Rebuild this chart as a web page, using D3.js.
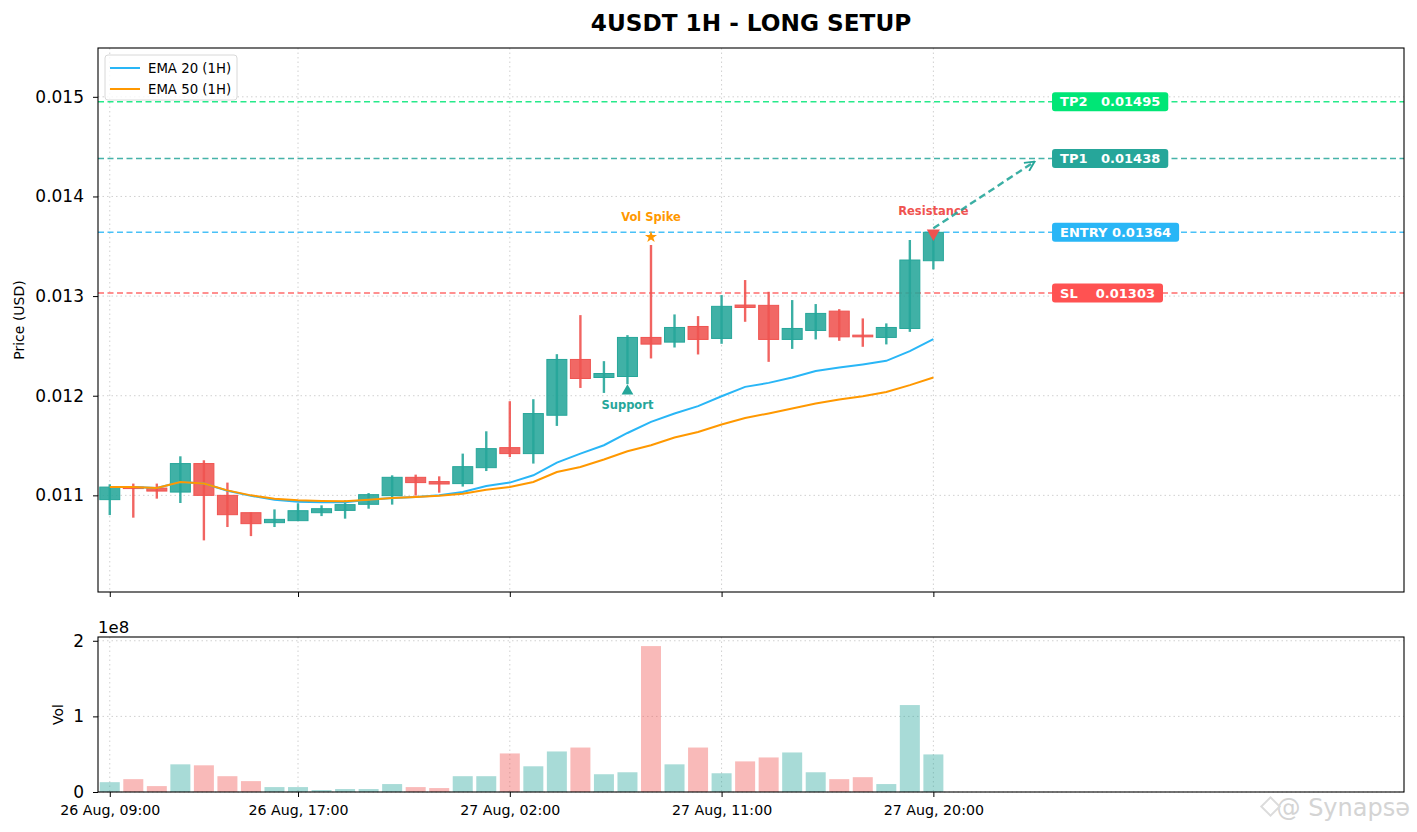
<!DOCTYPE html>
<html lang="en">
<head>
    <meta charset="UTF-8">
    <title>4USDT 1H - LONG SETUP</title>
    <style>
        body {
            margin: 0;
            background: #fff;
        }
        text {
            font-family: "DejaVu Sans", sans-serif;
        }
    </style>
    <script src="https://cdn.jsdelivr.net/npm/d3@7"></script>
</head>
<body>
    <script type="module">
        // Data (hourly candles, 26 Aug 09:00 -> 27 Aug 20:00)
        const opens = [0.010957, 0.011083, 0.011073, 0.011033, 0.011319, 0.011000, 0.010826, 0.010726, 0.010746, 0.010826, 0.010849, 0.010910, 0.010997, 0.011181, 0.011138, 0.011118, 0.011278, 0.011479, 0.011419, 0.011804, 0.012364, 0.012183, 0.012193, 0.012585, 0.012538, 0.012695, 0.012575, 0.012910, 0.012907, 0.012565, 0.012655, 0.012849, 0.012608, 0.012585, 0.012675, 0.013355];
        const highs = [0.011111, 0.011118, 0.011118, 0.011392, 0.011352, 0.011128, 0.010829, 0.010859, 0.010920, 0.010900, 0.010950, 0.011023, 0.011201, 0.011208, 0.011191, 0.011419, 0.011643, 0.011945, 0.011965, 0.012417, 0.012809, 0.012347, 0.012608, 0.013513, 0.012816, 0.012799, 0.013010, 0.013161, 0.013043, 0.012960, 0.012920, 0.012869, 0.012776, 0.012726, 0.013563, 0.013650];
        const lows = [0.010802, 0.010776, 0.010967, 0.010923, 0.010548, 0.010682, 0.010591, 0.010682, 0.010742, 0.010792, 0.010766, 0.010866, 0.010907, 0.010997, 0.011027, 0.011088, 0.011244, 0.011385, 0.011319, 0.011697, 0.012078, 0.012028, 0.012116, 0.012374, 0.012484, 0.012414, 0.012521, 0.012742, 0.012340, 0.012470, 0.012565, 0.012551, 0.012491, 0.012515, 0.012641, 0.013268];
        const closes = [0.011083, 0.011073, 0.011043, 0.011319, 0.011000, 0.010806, 0.010716, 0.010759, 0.010846, 0.010866, 0.010907, 0.011007, 0.011181, 0.011128, 0.011114, 0.011288, 0.011469, 0.011419, 0.011821, 0.012364, 0.012173, 0.012223, 0.012585, 0.012518, 0.012685, 0.012565, 0.012897, 0.012886, 0.012565, 0.012675, 0.012826, 0.012591, 0.012591, 0.012685, 0.013362, 0.013640];
        const volumes = [0.13e8, 0.17e8, 0.078e8, 0.366e8, 0.353e8, 0.209e8, 0.144e8, 0.065e8, 0.065e8, 0.026e8, 0.039e8, 0.039e8, 0.105e8, 0.065e8, 0.052e8, 0.209e8, 0.209e8, 0.51e8, 0.34e8, 0.536e8, 0.588e8, 0.235e8, 0.261e8, 1.93e8, 0.366e8, 0.588e8, 0.248e8, 0.405e8, 0.457e8, 0.523e8, 0.261e8, 0.17e8, 0.196e8, 0.105e8, 1.15e8, 0.497e8];
        const ema20 = [0.011083, 0.011083, 0.011073, 0.011134, 0.011118, 0.011047, 0.010995, 0.010957, 0.010937, 0.010930, 0.010930, 0.010957, 0.010973, 0.010983, 0.011000, 0.011033, 0.011094, 0.011128, 0.011201, 0.011329, 0.011419, 0.011503, 0.011626, 0.011737, 0.011821, 0.011895, 0.011995, 0.012089, 0.012129, 0.012183, 0.012249, 0.012283, 0.012314, 0.012350, 0.012447, 0.012568];
        const ema50 = [0.011083, 0.011083, 0.011073, 0.011134, 0.011118, 0.011050, 0.011000, 0.010967, 0.010950, 0.010943, 0.010940, 0.010957, 0.010973, 0.010983, 0.010997, 0.011017, 0.011057, 0.011083, 0.011134, 0.011234, 0.011284, 0.011360, 0.011442, 0.011503, 0.011580, 0.011636, 0.011711, 0.011777, 0.011822, 0.011871, 0.011922, 0.011962, 0.011995, 0.012038, 0.012106, 0.012183];

        const tickIndex = [0, 8, 17, 26, 35];
        const tickLabels = ["26 Aug, 09:00", "26 Aug, 17:00", "27 Aug, 02:00", "27 Aug, 11:00", "27 Aug, 20:00"];
        const priceTicks = [0.011, 0.012, 0.013, 0.014, 0.015];
        const volTicks = [0, 1e8, 2e8];

        const levelNames = ["TP2", "TP1", "ENTRY", "SL"];
        const levelPrices = [0.01495, 0.01438, 0.01364, 0.01303];
        const levelColors = ["#00e676", "#26a69a", "#29b6f6", "#ff5252"];

        // Canvas
        const width = 1417;
        const height = 832;
        const left = 98, right = 1404;
        const mainTop = 48, mainBottom = 592;
        const volTop = 637, volBottom = 792;

        const up = "#26a69a", down = "#ef5350";
        const n = closes.length;
        const last = n - 1;

        const svg = d3.select("body").append("svg").attr("width", width).attr("height", height);

        // Scales
        const x = d3.scaleLinear().domain([-0.5, 55]).range([left, right]);
        const y = d3.scaleLinear().domain([0.01003, 0.01549]).range([mainBottom, mainTop]);
        const yv = d3.scaleLinear().domain([0, 2.05e8]).range([volBottom, volTop]);
        const step = x(1) - x(0);

        // Clip paths
        const defs = svg.append("defs");
        defs.append("clipPath").attr("id", "clip-main")
            .append("rect").attr("x", left).attr("y", mainTop).attr("width", right - left).attr("height", mainBottom - mainTop);
        defs.append("clipPath").attr("id", "clip-vol")
            .append("rect").attr("x", left).attr("y", volTop).attr("width", right - left).attr("height", volBottom - volTop);

        // Grid
        const gridMain = svg.append("g").attr("stroke", "#d0d0d0").attr("stroke-dasharray", "1.5,3").attr("stroke-width", 1);
        gridMain.selectAll("line.gx").data(tickIndex).join("line")
            .attr("x1", d => x(d)).attr("x2", d => x(d)).attr("y1", mainTop).attr("y2", mainBottom);
        gridMain.selectAll("line.gy").data(priceTicks).join("line")
            .attr("x1", left).attr("x2", right).attr("y1", d => y(d)).attr("y2", d => y(d));

        const gridVol = svg.append("g").attr("stroke", "#d0d0d0").attr("stroke-dasharray", "1.5,3").attr("stroke-width", 1);
        gridVol.selectAll("line.gx").data(tickIndex).join("line")
            .attr("x1", d => x(d)).attr("x2", d => x(d)).attr("y1", volTop).attr("y2", volBottom);
        gridVol.selectAll("line.gy").data(volTicks).join("line")
            .attr("x1", left).attr("x2", right).attr("y1", d => yv(d)).attr("y2", d => yv(d));

        // Level lines
        const levels = svg.append("g").attr("clip-path", "url(#clip-main)");
        levels.selectAll("line").data(levelPrices).join("line")
            .attr("x1", left).attr("x2", right)
            .attr("y1", d => y(d)).attr("y2", d => y(d))
            .attr("stroke", (d, i) => levelColors[i])
            .attr("stroke-width", 1.5)
            .attr("stroke-opacity", 0.85)
            .attr("stroke-dasharray", "6,3.5");

        // Candles
        const candles = svg.append("g").attr("clip-path", "url(#clip-main)");
        const idx = d3.range(n);
        const bodyW = step * 0.85;

        candles.selectAll("rect").data(idx).join("rect")
            .attr("x", i => x(i) - bodyW / 2)
            .attr("width", bodyW)
            .attr("y", i => y(Math.max(opens[i], closes[i])))
            .attr("height", i => Math.max(1.5, Math.abs(y(opens[i]) - y(closes[i]))))
            .attr("fill", i => closes[i] >= opens[i] ? up : down)
            .attr("fill-opacity", 0.88)
            .attr("stroke", i => closes[i] >= opens[i] ? up : down)
            .attr("stroke-width", 1);

        candles.selectAll("line").data(idx).join("line")
            .attr("x1", i => x(i)).attr("x2", i => x(i))
            .attr("y1", i => y(highs[i])).attr("y2", i => y(lows[i]))
            .attr("stroke", i => closes[i] >= opens[i] ? up : down)
            .attr("stroke-opacity", 0.9)
            .attr("stroke-width", 2.4);

        // EMAs
        const line = d3.line().x((d, i) => x(i)).y(d => y(d));
        svg.append("path").datum(ema20).attr("d", line)
            .attr("fill", "none").attr("stroke", "#29b6f6").attr("stroke-width", 2);
        svg.append("path").datum(ema50).attr("d", line)
            .attr("fill", "none").attr("stroke", "#ff9800").attr("stroke-width", 2);

        // Annotations
        const spikeIdx = volumes.indexOf(d3.max(volumes));
        const supportIdx = 22;

        svg.append("path")
            .attr("d", d3.symbol().type(d3.symbolStar).size(45)())
            .attr("transform", `translate(${x(spikeIdx)}, ${y(highs[spikeIdx]) - 8})`)
            .attr("fill", "#ff9800");
        svg.append("text")
            .attr("x", x(spikeIdx)).attr("y", y(highs[spikeIdx]) - 24)
            .attr("text-anchor", "middle").attr("font-size", 11.5).attr("font-weight", "bold")
            .attr("fill", "#ff9800").text("Vol Spike");

        svg.append("path")
            .attr("d", d3.symbol().type(d3.symbolTriangle).size(60)())
            .attr("transform", `translate(${x(supportIdx)}, ${y(lows[supportIdx]) + 7})`)
            .attr("fill", up);
        svg.append("text")
            .attr("x", x(supportIdx)).attr("y", y(lows[supportIdx]) + 25)
            .attr("text-anchor", "middle").attr("font-size", 11.5).attr("font-weight", "bold")
            .attr("fill", up).text("Support");

        svg.append("path")
            .attr("d", d3.symbol().type(d3.symbolTriangle).size(75)())
            .attr("transform", `translate(${x(last)}, ${y(levelPrices[2]) + 1}) rotate(180)`)
            .attr("fill", down);
        svg.append("text")
            .attr("x", x(last)).attr("y", y(levelPrices[2]) - 17)
            .attr("text-anchor", "middle").attr("font-size", 11.5).attr("font-weight", "bold")
            .attr("fill", down).text("Resistance");

        // Arrow to TP1
        defs.append("marker").attr("id", "arrow")
            .attr("viewBox", "0 0 10 10").attr("refX", 9).attr("refY", 5)
            .attr("markerWidth", 5).attr("markerHeight", 5).attr("orient", "auto")
            .attr("markerUnits", "strokeWidth")
            .append("path").attr("d", "M1,1 L9,5 L1,9")
            .attr("fill", "none").attr("stroke", "#26a69a").attr("stroke-width", 1.6);
        svg.append("line")
            .attr("x1", x(last)).attr("y1", y(levelPrices[2]) - 4)
            .attr("x2", x(last + 4.3)).attr("y2", y(levelPrices[1]) + 3)
            .attr("stroke", "#26a69a").attr("stroke-opacity", 0.9)
            .attr("stroke-width", 2.4).attr("stroke-dasharray", "7,4")
            .attr("marker-end", "url(#arrow)");

        // Level labels
        const labelX = x(last + 5) + 1;
        levelNames.forEach((name, i) => {
            const g = svg.append("g");
            const t = g.append("text")
                .attr("x", labelX + 8).attr("y", y(levelPrices[i]))
                .attr("dy", "0.36em")
                .attr("font-size", 13).attr("font-weight", "bold")
                .attr("fill", "#fff")
                .style("white-space", "pre")
                .text(name.padEnd(5, " ") + " " + levelPrices[i].toFixed(5));
            const bb = t.node().getBBox();
            g.insert("rect", "text")
                .attr("x", labelX).attr("y", y(levelPrices[i]) - 9.5)
                .attr("width", bb.width + 16).attr("height", 19)
                .attr("rx", 3)
                .attr("fill", levelColors[i]);
        });

        // Volume bars
        const volW = step * 0.85;
        svg.append("g").attr("clip-path", "url(#clip-vol)")
            .selectAll("rect").data(idx).join("rect")
            .attr("x", i => x(i) - volW / 2)
            .attr("width", volW)
            .attr("y", i => yv(volumes[i]))
            .attr("height", i => yv(0) - yv(volumes[i]))
            .attr("fill", i => closes[i] >= opens[i] ? up : down)
            .attr("fill-opacity", 0.4);

        // Axes
        const yAxis = d3.axisLeft(y).tickValues(priceTicks).tickFormat(d3.format(".3f")).tickSizeOuter(0).tickSize(5).tickPadding(9);
        const xAxisMain = d3.axisBottom(x).tickValues(tickIndex).tickFormat("").tickSizeOuter(0).tickSize(5);
        const yvAxis = d3.axisLeft(yv).tickValues(volTicks).tickFormat(d => d / 1e8).tickSizeOuter(0).tickSize(5).tickPadding(9);
        const xAxisVol = d3.axisBottom(x).tickValues(tickIndex).tickFormat((d, i) => tickLabels[i]).tickSizeOuter(0).tickSize(5).tickPadding(8);

        const styleAxis = (g, size) => {
            g.select(".domain").remove();
            g.selectAll("text").attr("font-size", size).attr("fill", "#000").style("font-family", "DejaVu Sans");
            g.selectAll("line").attr("stroke", "#000").attr("stroke-width", 1);
        };

        svg.append("g").attr("transform", `translate(${left},0)`).call(yAxis).call(g => styleAxis(g, 17));
        svg.append("g").attr("transform", `translate(0,${mainBottom})`).call(xAxisMain).call(g => styleAxis(g, 14));
        svg.append("g").attr("transform", `translate(${left},0)`).call(yvAxis).call(g => styleAxis(g, 17));
        svg.append("g").attr("transform", `translate(0,${volBottom})`).call(xAxisVol).call(g => styleAxis(g, 14.2));

        // Frames
        svg.append("rect").attr("x", left).attr("y", mainTop).attr("width", right - left).attr("height", mainBottom - mainTop)
            .attr("fill", "none").attr("stroke", "#000").attr("stroke-width", 1.1);
        svg.append("rect").attr("x", left).attr("y", volTop).attr("width", right - left).attr("height", volBottom - volTop)
            .attr("fill", "none").attr("stroke", "#000").attr("stroke-width", 1.1);

        // Offset text
        svg.append("text").attr("x", left).attr("y", 633).attr("font-size", 16.5).text("1e8");

        // Axis labels
        svg.append("text").attr("transform", `translate(24, ${(mainTop + mainBottom) / 2}) rotate(-90)`)
            .attr("text-anchor", "middle").attr("font-size", 14).text("Price (USD)");
        svg.append("text").attr("transform", `translate(63, ${(volTop + volBottom) / 2}) rotate(-90)`)
            .attr("text-anchor", "middle").attr("font-size", 14).text("Vol");

        // Title
        svg.append("text").attr("x", (left + right) / 2).attr("y", 31)
            .attr("text-anchor", "middle").attr("font-size", 23.2).attr("font-weight", "bold")
            .text("4USDT 1H - LONG SETUP");

        // Legend
        const legend = svg.append("g").attr("transform", "translate(105, 55)");
        legend.append("rect").attr("width", 132).attr("height", 45).attr("rx", 3)
            .attr("fill", "#fff").attr("fill-opacity", 0.8).attr("stroke", "#d8d8d8");
        const legendItems = [["EMA 20 (1H)", "#29b6f6"], ["EMA 50 (1H)", "#ff9800"]];
        legendItems.forEach(([name, color], i) => {
            legend.append("line").attr("x1", 5).attr("x2", 35).attr("y1", 13 + i * 21).attr("y2", 13 + i * 21)
                .attr("stroke", color).attr("stroke-width", 2);
            legend.append("text").attr("x", 43).attr("y", 13 + i * 21).attr("dy", "0.36em")
                .attr("font-size", 13.3).text(name);
        });

        // Watermark
        svg.append("text").attr("x", 1410).attr("y", 816).attr("text-anchor", "end")
            .attr("font-size", 24).attr("fill", "#d4d4d4").text("@ Synapsə");
        svg.append("rect").attr("x", 1264).attr("y", 800).attr("width", 13).attr("height", 13)
            .attr("transform", "rotate(45, 1270.5, 806.5)")
            .attr("fill", "none").attr("stroke", "#dcdcdc").attr("stroke-width", 2);
    </script>
</body>
</html>
